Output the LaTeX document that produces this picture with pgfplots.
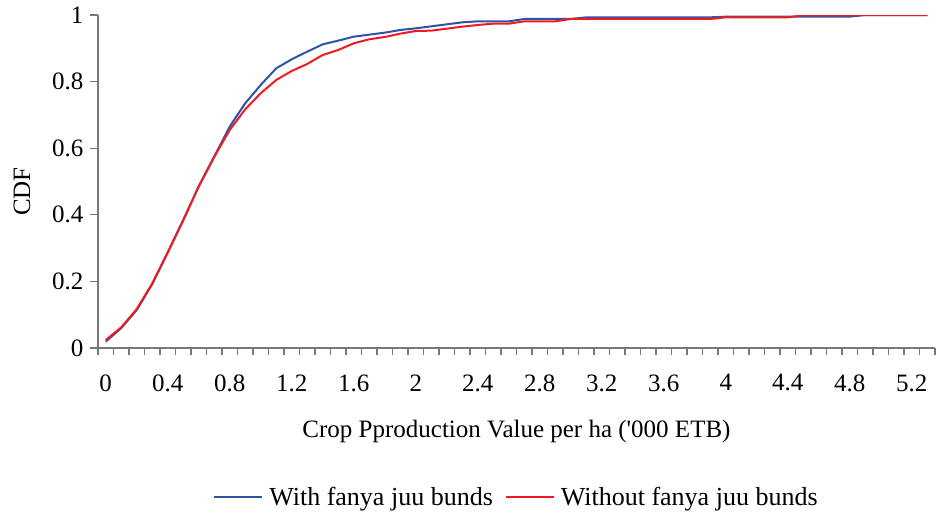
\documentclass[border=0pt]{standalone}
\usepackage{fontspec}
\setmainfont{Liberation Serif}
\usepackage{pgfplots}
\pgfplotsset{compat=1.18}
\usepackage{pgfplotstable}
\definecolor{withc}{RGB}{46,84,166}
\definecolor{woc}{RGB}{237,28,36}
\definecolor{axc}{RGB}{120,120,120}
\pgfplotstableread{
x with without
0.0 0.019 0.024
0.1 0.060 0.062
0.2 0.114 0.117
0.3 0.192 0.194
0.4 0.287 0.287
0.5 0.384 0.384
0.6 0.486 0.485
0.7 0.575 0.574
0.8 0.665 0.655
0.9 0.735 0.717
1.0 0.790 0.765
1.1 0.840 0.805
1.2 0.867 0.832
1.3 0.890 0.853
1.4 0.912 0.880
1.5 0.923 0.895
1.6 0.935 0.915
1.7 0.941 0.927
1.8 0.947 0.934
1.9 0.955 0.944
2.0 0.960 0.952
2.1 0.966 0.953
2.2 0.972 0.959
2.3 0.978 0.965
2.4 0.981 0.970
2.5 0.981 0.974
2.6 0.981 0.974
2.7 0.988 0.981
2.8 0.988 0.981
2.9 0.988 0.981
3.0 0.988 0.988
3.1 0.993 0.988
3.2 0.993 0.988
3.3 0.993 0.988
3.4 0.993 0.988
3.5 0.993 0.988
3.6 0.993 0.988
3.7 0.993 0.988
3.8 0.993 0.988
3.9 0.993 0.988
4.0 0.995 0.993
4.1 0.995 0.993
4.2 0.995 0.993
4.3 0.995 0.993
4.4 0.995 0.993
4.5 0.995 0.999
4.6 0.995 0.999
4.7 0.995 0.999
4.8 0.995 0.999
4.9 1.000 1.000
5.0 1.000 1.000
5.1 1.000 1.000
5.2 1.000 1.000
5.3 1.000 1.000
}\cdfdata
\begin{document}
\begin{tikzpicture}
\path[use as bounding box] (-98pt,-167pt) rectangle (838pt,15pt+333pt);
\begin{axis}[
  at={(0pt,0pt)}, anchor=south west,
  scale only axis, width=837pt, height=333pt,
  xmin=-0.05, xmax=5.35, ymin=0, ymax=1,
  axis x line=bottom, axis y line=left,
  axis line style={-, axc, line width=1.1pt},
  every tick/.style={axc, line width=1.1pt},
  tick align=outside,
  xtick={0,0.4,0.8,1.2,1.6,2,2.4,2.8,3.2,3.6,4,4.4,4.8,5.2},
  xticklabels={0,0.4,0.8,1.2,1.6,2,2.4,2.8,3.2,3.6,4,4.4,4.8,5.2},
  major x tick style={draw=none},
  minor xtick={-0.05,0.05,...,5.4},
  minor tick length=7pt,
  major tick length=8pt,
  ytick={0,0.2,0.4,0.6,0.8,1},
  yticklabels={0,0.2,0.4,0.6,0.8,1},
  tick label style={font=\fontsize{25}{28}\selectfont},
  xticklabel style={yshift=-15pt},
  yticklabel style={xshift=-3pt},
  xlabel={Crop Pproduction Value per ha (\textquotesingle000 ETB)},
  xlabel style={font=\fontsize{25}{28}\selectfont, at={(axis description cs:0.5,-0.252)}, anchor=center},
  ylabel={CDF},
  ylabel style={font=\fontsize{25}{28}\selectfont, at={(axis description cs:-0.0907,0.47)}, anchor=center, rotate=0},
  legend columns=2,
  legend style={at={(axis description cs:0.5,-0.447)}, anchor=center, draw=none, fill=none,
    font=\fontsize{26}{29}\selectfont,
    /tikz/every odd column/.append style={column sep=4pt},
    /tikz/every even column/.append style={column sep=10pt}},
  legend image code/.code={\draw[#1, line width=2pt] (-4pt,0pt) -- (44pt,0pt);},
]
\addplot[withc, line width=2pt] table[x=x, y=with] {\cdfdata};
\addlegendentry{With fanya juu bunds}
\addplot[woc, line width=2pt] table[x=x, y=without] {\cdfdata};
\addlegendentry{Without fanya juu bunds}
\end{axis}
\end{tikzpicture}
\end{document}
